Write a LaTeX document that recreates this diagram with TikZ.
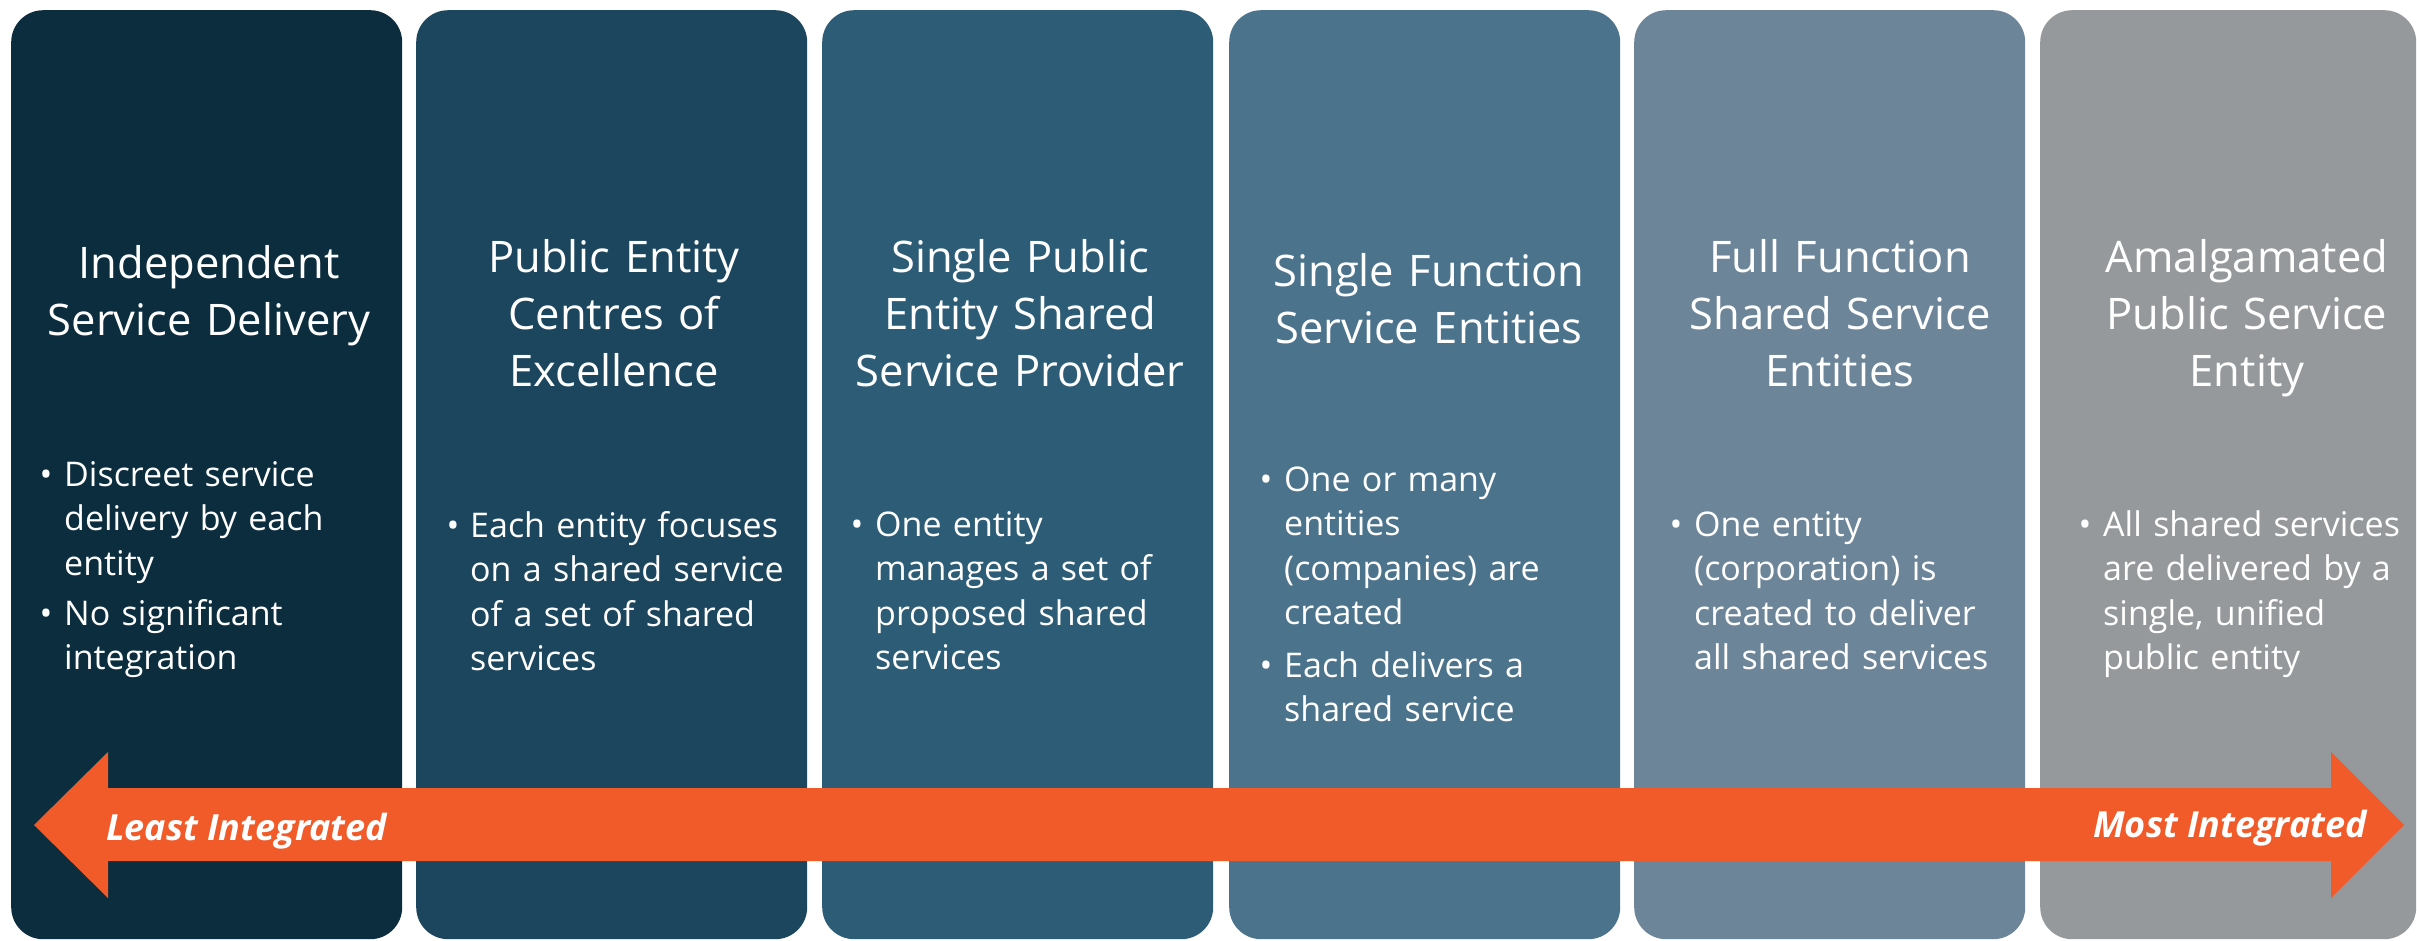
\documentclass[tikz,border=0pt]{standalone}
\usepackage{fontspec}
\setmainfont{Open Sans}
\definecolor{stageA}{HTML}{0B2D3E}
\definecolor{stageB}{HTML}{1C465D}
\definecolor{stageC}{HTML}{2D5D76}
\definecolor{stageD}{HTML}{4B738C}
\definecolor{stageE}{HTML}{6D8599}
\definecolor{stageF}{HTML}{95999C}
\definecolor{scaleorange}{HTML}{F15A29}
\tikzset{
  panel/.style={rectangle, rounded corners=32pt, anchor=north west, inner sep=0pt,
    minimum width=391pt, minimum height=929pt},
  heading/.style={text=white, anchor=base, inner sep=0pt, text width=391pt, align=center,
    font=\fontsize{43.5}{57}\selectfont},
  point/.style={text=white, anchor=base west, inner sep=0pt, text width=345pt, align=left,
    font=\fontsize{34}{44.6}\selectfont},
  dot/.style={text=white, anchor=base, inner sep=0pt, font=\fontsize{34}{44.6}\selectfont},
  tag/.style={text=white, anchor=base west, inner sep=0pt,
    font=\fontsize{36}{42}\selectfont\bfseries\itshape},
}
\begin{document}
\begin{tikzpicture}[x=1pt,y=-1pt]
\useasboundingbox (0,0) rectangle (2417,940);
\fill[white] (0,0) rectangle (2417,940);
% the six stages
\node[panel, fill=stageA] (p1) at (11,10) {};
\node[panel, fill=stageB] (p2) at (416,10) {};
\node[panel, fill=stageC] (p3) at (822,10) {};
\node[panel, fill=stageD] (p4) at (1229,10) {};
\node[panel, fill=stageE] (p5) at (1634,10) {};
\node[panel, fill=stageF, minimum width=376pt] (p6) at (2040,10) {};
% headings
\node[heading] (h1) at (209,278) {Independent\\Service Delivery};
\node[heading] (h2) at (614,272) {Public Entity\\Centres of\\Excellence};
\node[heading] (h3) at (1020,272) {Single Public\\Entity Shared\\Service Provider};
\node[heading] (h4) at (1429,286) {Single Function\\Service Entities};
\node[heading] (h5) at (1840,272) {Full Function\\Shared Service\\Entities};
\node[heading] (h6) at (2247,272) {Amalgamated\\Public Service\\Entity};
% bullet points
\node[dot] (d1a) at (46,486) {\textbullet};
\node[point] (t1a) at (64,486) {Discreet service\\delivery by each\\entity};
\node[dot] (d1b) at (46,625) {\textbullet};
\node[point] (t1b) at (64,625) {No significant\\integration};
\node[dot] (d2) at (453,537) {\textbullet};
\node[point] (t2) at (470,537) {Each entity focuses\\on a shared service\\of a set of shared\\services};
\node[dot] (d3) at (857,536) {\textbullet};
\node[point] (t3) at (875,536) {One entity\\manages a set of\\proposed shared\\services};
\node[dot] (d4a) at (1266,491) {\textbullet};
\node[point] (t4a) at (1284,491) {One or many\\entities\\(companies) are\\created};
\node[dot] (d4b) at (1266,677) {\textbullet};
\node[point] (t4b) at (1284,677) {Each delivers a\\shared service};
\node[dot] (d5) at (1676,536) {\textbullet};
\node[point] (t5) at (1694,536) {One entity\\(corporation) is\\created to deliver\\all shared services};
\node[dot] (d6) at (2085,536) {\textbullet};
\node[point] (t6) at (2103,536) {All shared services\\are delivered by a\\single, unified\\public entity};
% integration scale
\fill[scaleorange] (34,825) -- (108,752) -- (108,788) -- (2331,788) -- (2331,752)
  -- (2404,825) -- (2331,898) -- (2331,861) -- (108,861) -- (108,898) -- cycle;
\node[tag] (least) at (106,840) {Least Integrated};
\node[tag, anchor=base east] (most) at (2367,837) {Most Integrated};
\end{tikzpicture}
\end{document}
